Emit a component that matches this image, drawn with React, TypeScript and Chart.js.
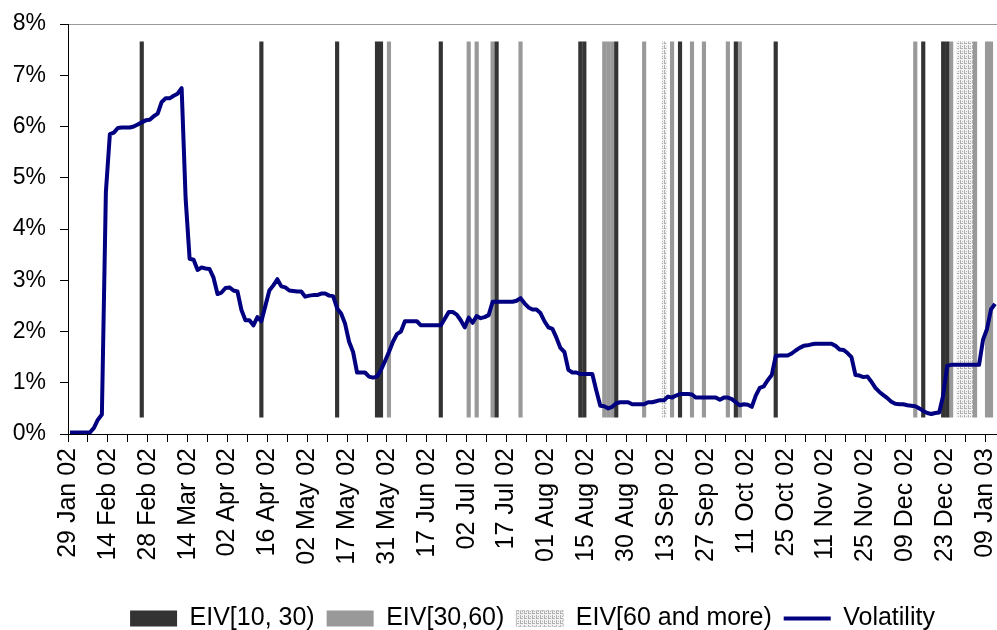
import React, { useEffect, useRef } from 'react';
import { Chart, registerables } from 'chart.js';

Chart.register(...registerables);

// Tick labels shown every 10 observations along the x axis
const xTickLabels = [
  '29 Jan 02', '14 Feb 02', '28 Feb 02', '14 Mar 02', '02 Apr 02', '16 Apr 02',
  '02 May 02', '17 May 02', '31 May 02', '17 Jun 02', '02 Jul 02', '17 Jul 02',
  '01 Aug 02', '15 Aug 02', '30 Aug 02', '13 Sep 02', '27 Sep 02', '11 Oct 02',
  '25 Oct 02', '11 Nov 02', '25 Nov 02', '09 Dec 02', '23 Dec 02', '09 Jan 03',
];

// Volatility (%) per observation, index 0 = 29 Jan 02
const volatility = [
  0.03, 0.03, 0.03, 0.03, 0.03, 0.03, 0.12, 0.28, 0.38, 4.72,
  5.85, 5.88, 5.97, 5.98, 5.98, 5.98, 6.0, 6.04, 6.08, 6.12,
  6.13, 6.2, 6.25, 6.48, 6.55, 6.55, 6.6, 6.64, 6.75, 4.6,
  3.42, 3.4, 3.2, 3.25, 3.23, 3.22, 3.05, 2.73, 2.76, 2.85,
  2.86, 2.8, 2.78, 2.42, 2.22, 2.22, 2.12, 2.28, 2.2, 2.5,
  2.8, 2.9, 3.02, 2.88, 2.86, 2.8, 2.79, 2.78, 2.78, 2.68,
  2.7, 2.71, 2.71, 2.74, 2.74, 2.7, 2.69, 2.45, 2.35, 2.15,
  1.8, 1.6, 1.2, 1.2, 1.2, 1.12, 1.1, 1.12, 1.25, 1.42,
  1.6, 1.8, 1.95, 2.0, 2.2, 2.2, 2.2, 2.2, 2.12, 2.12,
  2.12, 2.12, 2.12, 2.12, 2.25, 2.38, 2.38, 2.33, 2.22, 2.08,
  2.27, 2.17, 2.3, 2.26, 2.28, 2.32, 2.58, 2.58, 2.58, 2.58,
  2.58, 2.58, 2.6, 2.65, 2.55, 2.47, 2.43, 2.43, 2.36, 2.2,
  2.08, 2.05, 1.88, 1.68, 1.6, 1.25, 1.2, 1.2, 1.17, 1.17,
  1.17, 1.17, 0.85, 0.55, 0.54, 0.5, 0.53, 0.6, 0.62, 0.62,
  0.62, 0.58, 0.58, 0.58, 0.58, 0.62, 0.62, 0.64, 0.66, 0.66,
  0.73, 0.71, 0.75, 0.78, 0.78, 0.78, 0.77, 0.71, 0.71, 0.71,
  0.71, 0.71, 0.71, 0.67, 0.71, 0.71, 0.68, 0.62, 0.56, 0.58,
  0.57, 0.53, 0.75, 0.9, 0.93, 1.05, 1.15, 1.52, 1.53, 1.53,
  1.53, 1.57, 1.63, 1.68, 1.72, 1.73, 1.75, 1.76, 1.76, 1.76,
  1.76, 1.76, 1.72, 1.65, 1.64, 1.58, 1.5, 1.15, 1.14, 1.11,
  1.12, 1.02, 0.9, 0.82, 0.76, 0.7, 0.63, 0.59, 0.58, 0.58,
  0.56, 0.55, 0.54, 0.5, 0.45, 0.41, 0.39, 0.41, 0.42, 0.75,
  1.33, 1.35, 1.35, 1.35, 1.35, 1.35, 1.35, 1.35, 1.35, 1.84,
  2.05, 2.43, 2.54,
];

// Observation indices at which each EIV class occurs
const eiv10to30Days = [18, 48, 67, 77, 78, 93, 107, 128, 129, 137, 153, 167, 177, 214, 219, 220];
const eiv30to60Days = [80, 100, 102, 106, 113, 134, 135, 136, 144, 151, 156, 159, 165, 168, 212, 221, 227, 230, 231];
const eiv60PlusDays = [149, 223, 224, 225, 226];

// Vertical extent (in %) of the EIV marker bars
const eivBarRange = [0.33, 7.65];

const yMax = 8;

const FONT = "'Liberation Sans', Arial, Helvetica, sans-serif";

export default function App() {
  const canvasRef = useRef<HTMLCanvasElement | null>(null);

  useEffect(() => {
    const canvas = canvasRef.current;
    if (!canvas) return;
    const ctx = canvas.getContext('2d');
    if (!ctx) return;

    // light dashed pattern for EIV[60 and more)
    const pc = document.createElement('canvas');
    pc.width = 4;
    pc.height = 5;
    const g = pc.getContext('2d')!;
    g.fillStyle = '#f2f2f2';
    g.fillRect(0, 0, 4, 5);
    g.fillStyle = '#b0b0b0';
    g.fillRect(0, 0, 1, 4);
    g.fillRect(1, 3, 2, 1);
    g.fillRect(2, 1, 1, 1);
    const pattern = ctx.createPattern(pc, 'repeat')!;

    const barPoints = (days: number[]) => days.map((d) => ({ x: d, y: eivBarRange }));
    const n = volatility.length;

    const legendShift = {
      id: 'legendShift',
      afterLayout(chart: any) {
        const l = chart.legend;
        if (l) {
          l.top += 11;
          l.bottom += 11;
        }
      },
    };

    const barCommon = {
      type: 'bar' as const,
      grouped: false,
      barThickness: 3.5,
      borderWidth: 0,
      order: 1,
    };

    const chart = new Chart(ctx, {
      type: 'bar',
      data: {
        datasets: [
          { ...barCommon, label: 'EIV[10, 30)', data: barPoints(eiv10to30Days), backgroundColor: '#333333' } as any,
          { ...barCommon, label: 'EIV[30,60)', data: barPoints(eiv30to60Days), backgroundColor: '#999999' } as any,
          { ...barCommon, label: 'EIV[60 and more)', data: barPoints(eiv60PlusDays), backgroundColor: pattern, barThickness: 4 } as any,
          {
            type: 'line',
            label: 'Volatility',
            data: volatility.map((v, i) => ({ x: i, y: v })),
            borderColor: '#000080',
            backgroundColor: '#000080',
            borderWidth: 4,
            pointRadius: 0,
            tension: 0,
            fill: false,
            order: 0,
            borderJoinStyle: 'round',
          } as any,
        ],
      },
      options: {
        responsive: false,
        animation: false,
        events: [],
        layout: { padding: { top: 24, left: 0, right: 0, bottom: 0 } },
        scales: {
          x: {
            type: 'linear',
            min: -0.5,
            max: n - 0.5,
            offset: false,
            bounds: 'data',
            afterBuildTicks: (scale: any) => {
              const t: { value: number }[] = [];
              for (let v = -0.5; v < n - 0.5; v += 5) t.push({ value: v });
              scale.ticks = t;
            },
            afterFit: (scale: any) => {
              scale.height = 149;
              scale.paddingLeft = 0;
              scale.paddingRight = 0;
            },
            grid: {
              offset: false,
              drawOnChartArea: false,
              drawTicks: true,
              tickLength: 8,
              tickColor: '#000000',
              color: '#000000',
            },
            border: { display: true, color: '#000000', width: 1 },
            ticks: {
              autoSkip: false,
              maxRotation: 90,
              minRotation: 90,
              padding: 6,
              color: '#000000',
              font: { family: FONT, size: 25 },
              callback: (value: any) => {
                const k = (Number(value) + 0.5) / 10;
                return Number.isInteger(k) && xTickLabels[k] ? xTickLabels[k] : '';
              },
            },
          },
          y: {
            type: 'linear',
            min: 0,
            max: yMax,
            afterFit: (scale: any) => {
              scale.width = 68;
              scale.paddingTop = 0;
              scale.paddingBottom = 0;
            },
            grid: {
              drawOnChartArea: true,
              drawTicks: true,
              tickLength: 8,
              tickColor: '#000000',
              color: (c: any) => (c.tick && c.tick.value === yMax ? '#999999' : 'rgba(0,0,0,0)'),
            },
            border: { display: true, color: '#000000', width: 1 },
            ticks: {
              stepSize: 1,
              padding: 14,
              color: '#000000',
              font: { family: FONT, size: 23 },
              callback: (v: any) => `${v}%`,
            },
          },
        },
        plugins: {
          tooltip: { enabled: false },
          legend: {
            display: true,
            position: 'bottom',
            fullSize: false,
            labels: {
              usePointStyle: true,
              pointStyleWidth: 47,
              boxHeight: 16,
              padding: 12,
              color: '#000000',
              font: { family: FONT, size: 25 },
              sort: (a: any, b: any) => a.datasetIndex - b.datasetIndex,
              generateLabels: (ch: any) => {
                const items = (Chart.defaults as any).plugins.legend.labels.generateLabels(ch);
                items.forEach((it: any) => {
                  if (it.datasetIndex === 3) {
                    it.pointStyle = 'line';
                    it.strokeStyle = '#000080';
                    it.lineWidth = 4;
                  } else {
                    it.pointStyle = 'rect';
                    it.lineWidth = 0;
                    if (it.datasetIndex === 2) {
                      it.lineWidth = 1;
                      it.strokeStyle = '#c0c0c0';
                      it.lineDash = [3, 2];
                    }
                  }
                });
                return items;
              },
            },
          },
        },
      } as any,
      plugins: [legendShift],
    });

    return () => {
      chart.destroy();
    };
  }, []);

  return (
    <div style={{ position: 'fixed', left: 0, top: 0, width: 997, height: 630, background: '#ffffff' }}>
      <canvas ref={canvasRef} width={997} height={630} style={{ display: 'block', width: 997, height: 630 }} />
    </div>
  );
}
